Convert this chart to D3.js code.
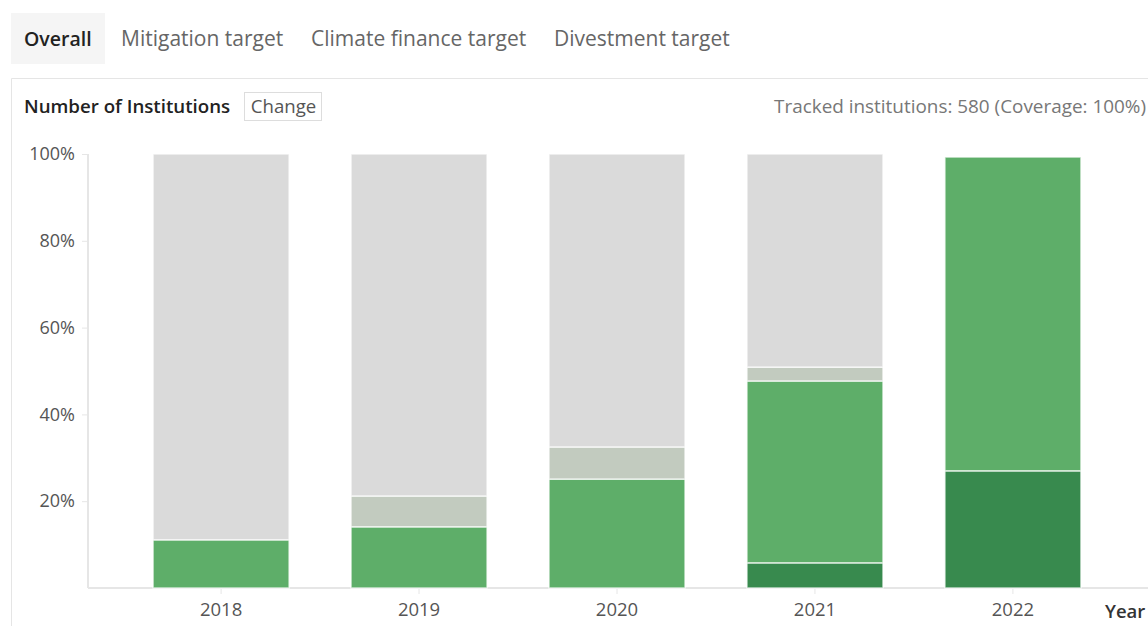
<!DOCTYPE html>
<html>
<head>
<meta charset="utf-8">
<script src="https://cdn.jsdelivr.net/npm/d3@7"></script>
<style>
  body { margin: 0; background: #fff; font-family: "Open Sans", sans-serif; }
  svg { display: block; }
</style>
</head>
<body>
<div id="chart"></div>
<script>
// Chart data (percent of tracked institutions)
const years = ["2018", "2019", "2020", "2021", "2022"];
const seriesNames = ["dark", "green", "partial", "none"];
const darkValues    = [0,    0,    0,    5.8,  27.0];
const greenValues   = [11.1, 14.1, 25.1, 41.9, 72.3];
const partialValues = [0,    7.1,  7.4,  3.2,  0];
const noneValues    = [88.9, 78.8, 67.5, 49.1, 0];
const yTicks = [20, 40, 60, 80, 100];
const tabs = ["Overall", "Mitigation target", "Climate finance target", "Divestment target"];

const colors = {dark: "#388a4e", green: "#5eae69", partial: "#c2cbbf", none: "#dadada"};

const W = 1148, H = 626;
const svg = d3.select("#chart").append("svg").attr("width", W).attr("height", H);

// Tabs
svg.append("rect").attr("x", 11).attr("y", 13).attr("width", 94).attr("height", 51).attr("fill", "#f5f5f5");
const tabX = [24, 121, 311, 554];
tabs.forEach((t, i) => {
  svg.append("text").attr("x", tabX[i]).attr("y", 46)
    .attr("font-size", i === 0 ? 19.5 : 21).attr("font-weight", i === 0 ? 600 : 400)
    .attr("fill", i === 0 ? "#222" : "#666").text(t);
});

// Panel border
svg.append("path").attr("d", "M11.5,626 V78.5 H1148").attr("fill", "none").attr("stroke", "#e5e5e5");

// Header
svg.append("text").attr("x", 24).attr("y", 113).attr("font-size", 18.7).attr("font-weight", 600)
  .attr("fill", "#222").text("Number of Institutions");
svg.append("rect").attr("x", 244.5).attr("y", 92.5).attr("width", 77).attr("height", 28)
  .attr("fill", "#fff").attr("stroke", "#dddddd");
svg.append("text").attr("x", 283.5).attr("y", 113).attr("text-anchor", "middle").attr("font-size", 18.6)
  .attr("fill", "#555").text("Change");
svg.append("text").attr("x", 1146).attr("y", 113).attr("text-anchor", "end").attr("font-size", 18.9)
  .attr("fill", "#777").text("Tracked institutions: 580 (Coverage: 100%)");

// Scales
const x = d3.scaleBand().domain(years).range([122, 1112]).paddingInner(0.313).paddingOuter(0.157);
const y = d3.scaleLinear().domain([0, 100]).range([588, 154]);

// Stack
const rows = years.map((yr, i) => ({
  year: yr, dark: darkValues[i], green: greenValues[i], partial: partialValues[i], none: noneValues[i]
}));
const stacked = d3.stack().keys(seriesNames)(rows);

// Axes
const yAxis = svg.append("g").attr("transform", "translate(88,0)")
  .call(d3.axisLeft(y).tickValues(yTicks).tickSize(6).tickFormat(d => d + "%"));
yAxis.select(".domain").attr("stroke", "#e6e6e6").attr("stroke-width", 2).attr("d", "M0,154V588");
yAxis.selectAll(".tick line").attr("stroke", "#e6e6e6");
yAxis.selectAll(".tick text").attr("font-size", 18).attr("fill", "#555").attr("font-family", "Open Sans").attr("x", -13);

const xAxis = svg.append("g").attr("transform", "translate(0,588)")
  .call(d3.axisBottom(x).tickSize(6));
xAxis.select(".domain").attr("stroke", "#e6e6e6").attr("stroke-width", 2).attr("d", "M88,0H1148");
xAxis.selectAll(".tick line").attr("stroke", "#e6e6e6");
xAxis.selectAll(".tick text").attr("font-size", 18.5).attr("fill", "#555").attr("font-family", "Open Sans").attr("y", 15);

svg.append("text").attr("x", 1105).attr("y", 618).attr("font-size", 18.5).attr("font-weight", 600)
  .attr("fill", "#333").text("Year");

// Bars
svg.append("g").selectAll("g").data(stacked).join("g")
  .attr("fill", d => colors[d.key])
  .selectAll("rect").data(d => d.filter(s => s[1] - s[0] > 0)).join("rect")
  .attr("x", d => x(d.data.year))
  .attr("width", x.bandwidth())
  .attr("y", d => y(d[1]))
  .attr("height", d => y(d[0]) - y(d[1]))
  .attr("stroke", "#ffffff").attr("stroke-opacity", 0.7).attr("stroke-width", 1.5);
</script>
</body>
</html>
